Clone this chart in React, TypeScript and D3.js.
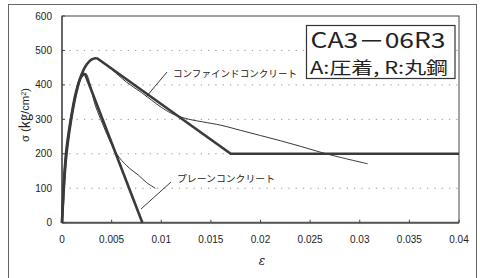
import React from "react";
import * as d3 from "d3";

const strainTicks = [0, 0.005, 0.01, 0.015, 0.02, 0.025, 0.03, 0.035, 0.04];
const strainTickLabels = ["0", "0.005", "0.01", "0.015", "0.02", "0.025", "0.03", "0.035", "0.04"];
const stressTicks = [0, 100, 200, 300, 400, 500, 600];
const gridStress = [100, 200, 300, 400, 500];

// confined concrete model (thick)
const confinedModelRise: [number, number][] = [
  [0, 0], [0.0004, 185], [0.0009, 295], [0.0014, 372], [0.0019, 425], [0.0025, 460], [0.003, 474], [0.0035, 478],
];
const confinedModelFall: [number, number][] = [
  [0.0035, 478], [0.017, 200], [0.04, 200],
];
// plain concrete model (thick)
const plainModelRise: [number, number][] = [
  [0, 0], [0.0004, 200], [0.0009, 303], [0.0014, 378], [0.0019, 422], [0.0023, 434],
];
const plainModelFall: [number, number][] = [
  [0.0023, 434], [0.0081, 0],
];
// confined experiment (thin)
const confinedTest: [number, number][] = [
  [0, 0], [0.0001, 90], [0.0004, 190], [0.0009, 295], [0.0014, 375], [0.002, 430], [0.0025, 458], [0.003, 473],
  [0.0034, 478], [0.004, 468], [0.005, 445], [0.0065, 408], [0.008, 378], [0.01, 335], [0.011, 318], [0.0124, 303],
  [0.016, 283], [0.018, 268], [0.02, 253], [0.022, 238], [0.024, 222], [0.026, 205], [0.028, 190], [0.0308, 171],
];
// plain experiment (thin)
const plainTest: [number, number][] = [
  [0, 0], [0.0001, 95], [0.0004, 200], [0.0009, 300], [0.0014, 378], [0.0019, 422], [0.0024, 432],
  [0.0028, 405], [0.0033, 345], [0.0039, 300], [0.0046, 252], [0.0052, 215], [0.0058, 188],
  [0.0068, 158], [0.0077, 138], [0.0085, 117], [0.0094, 100],
];

const W = 480, H = 278;
const plot = { left: 62, right: 459, top: 16, bottom: 222.7 };

export default function App() {
  const x = d3.scaleLinear().domain([0, 0.04]).range([plot.left, plot.right]);
  const y = d3.scaleLinear().domain([0, 600]).range([plot.bottom, plot.top]);
  const straight = d3.line<[number, number]>().x(d => x(d[0])).y(d => y(d[1]));
  const curved = d3.line<[number, number]>().x(d => x(d[0])).y(d => y(d[1])).curve(d3.curveCatmullRom.alpha(0.5));
  const thick = { fill: "none", stroke: "#3a3a3a", strokeWidth: 2.6, strokeLinejoin: "round" as const };
  const thin = { fill: "none", stroke: "#222", strokeWidth: 0.9 };
  const font = "'Liberation Sans', Arial, sans-serif";
  return (
    <svg width={W} height={H} style={{ position: "absolute", left: 0, top: 0, background: "#fff" }}>
      <rect x={8.5} y={4.5} width={468} height={275} fill="none" stroke="#666" strokeWidth={1} />
      {gridStress.map(v => (
        <line key={v} x1={plot.left} x2={plot.right} y1={y(v)} y2={y(v)} stroke="#999" strokeWidth={1} strokeDasharray="1.3,6" />
      ))}
      <rect x={plot.left} y={plot.top} width={plot.right - plot.left} height={plot.bottom - plot.top} fill="none" stroke="#444" strokeWidth={1} />
      <line x1={plot.left} x2={plot.right} y1={plot.bottom} y2={plot.bottom} stroke="#555" strokeWidth={2} />
      <line x1={plot.left} x2={plot.left} y1={plot.top} y2={plot.bottom} stroke="#555" strokeWidth={1.5} />
      {strainTicks.map((t, i) => (
        <g key={t}>
          <line x1={x(t)} x2={x(t)} y1={plot.bottom} y2={plot.bottom - 3} stroke="#444" />
          <text x={x(t)} y={243} textAnchor="middle" fontFamily={font} fontSize={10} fill="#222">{strainTickLabels[i]}</text>
        </g>
      ))}
      {stressTicks.map(t => (
        <g key={t}>
          <line x1={plot.left} x2={plot.left + 3} y1={y(t)} y2={y(t)} stroke="#444" />
          <text x={52} y={y(t) + 3.5} textAnchor="end" fontFamily={font} fontSize={10} fill="#222">{t}</text>
        </g>
      ))}
      <text x={262} y={265} textAnchor="middle" fontFamily="'DejaVu Serif', serif" fontStyle="italic" fontSize={12} fill="#222">ε</text>
      <text transform="translate(29,115) rotate(-90)" textAnchor="middle" fontFamily={font} fontSize={11} fill="#222" textLength={54} lengthAdjust="spacingAndGlyphs">
        σ (<tspan fontFamily="'Noto Sans CJK JP', sans-serif" fontSize={14}>㎏</tspan>/cm<tspan baselineShift="super" fontSize={7}>2</tspan>)
      </text>

      <path d={curved(plainTest) || ""} {...thin} />
      <path d={curved(confinedTest) || ""} {...thin} />
      <path d={curved(plainModelRise) || ""} {...thick} />
      <path d={straight(plainModelFall) || ""} {...thick} />
      <path d={curved(confinedModelRise) || ""} {...thick} />
      <path d={straight(confinedModelFall) || ""} {...thick} />

      <line x1={167} y1={72} x2={146} y2={97} stroke="#222" strokeWidth={0.9} />
      <text x={173} y={77} fontFamily="'Noto Sans CJK JP', sans-serif" fontSize={9.5} fill="#222" textLength={124} lengthAdjust="spacingAndGlyphs">コンファインドコンクリート</text>
      <line x1={171} y1={182} x2={141} y2={209} stroke="#222" strokeWidth={0.9} />
      <text x={177} y={182} fontFamily="'Noto Sans CJK JP', sans-serif" fontSize={9.5} fill="#222" textLength={98} lengthAdjust="spacingAndGlyphs">プレーンコンクリート</text>

      <rect x={306.5} y={25.5} width={148.5} height={53} fill="#fff" stroke="#333" strokeWidth={1.2} />
      <text x={310.5} y={48} fontFamily="'Noto Sans CJK JP', sans-serif" fontSize={21} fill="#222" textLength={135} lengthAdjust="spacingAndGlyphs">CA3－06R3</text>
      <text x={310} y={74} fontFamily="'Noto Sans CJK JP', sans-serif" fontSize={17} fill="#222" textLength={138} lengthAdjust="spacingAndGlyphs">A:圧着, R:丸鋼</text>
    </svg>
  );
}
